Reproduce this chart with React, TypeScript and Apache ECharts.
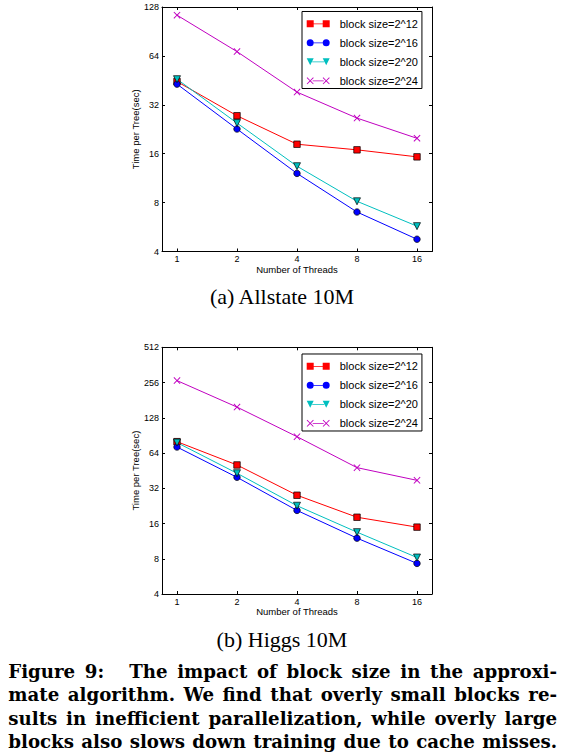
import React, { useEffect, useRef } from "react";
import * as echarts from "echarts";

const threads = [1, 2, 4, 8, 16];
const seriesNames = ["block size=2^12", "block size=2^16", "block size=2^20", "block size=2^24"];
const allstate12 = [44.5, 27.4, 18.3, 16.9, 15.3];
const allstate16 = [42.9, 22.7, 12.1, 7.0, 4.76];
const allstate20 = [46, 24.7, 13.4, 8.15, 5.73];
const allstate24 = [114, 68, 38.3, 26.5, 19.9];
const higgs12 = [80, 50.6, 27.9, 18.1, 14.9];
const higgs16 = [72, 39.7, 20.7, 12.0, 7.3];
const higgs20 = [78.6, 43, 22.7, 13.5, 8.2];
const higgs24 = [266, 158, 88.3, 48, 37.4];
const allstateYRange = [4, 128];
const higgsYRange = [4, 512];
const xLabel = "Number of Threads";
const yLabel = "Time per Tree(sec)";
const subCaptions = ["(a) Allstate 10M", "(b) Higgs 10M"];
const captionLines = [
  "Figure 9:  The impact of block size in the approxi-",
  "mate algorithm. We find that overly small blocks re-",
  "sults in inefficient parallelization, while overly large",
  "blocks also slows down training due to cache misses.",
];

const colors = ["#FF0000", "#0000FF", "#00BFBF", "#C000C0"];
const XPATH = "path://M0,1L1,0L5,4L9,0L10,1L6,5L10,9L9,10L5,6L1,10L0,9L4,5Z";
const symbols: any[] = ["rect", "circle", "triangle", XPATH];
const symbolRot = [0, 0, 180, 0];
const symbolSizes = [6.5, 6.5, 7, 7];
const legendIcons = [
  "path://M0,0H7V7H0Z M7,3.1H16V3.9H7Z M16,0H23V7H16Z",
  "path://M0,3.5A3.5,3.5,0,1,1,7,3.5A3.5,3.5,0,1,1,0,3.5Z M7,3.1H16V3.9H7Z M16,3.5A3.5,3.5,0,1,1,23,3.5A3.5,3.5,0,1,1,16,3.5Z",
  "path://M0,0H7L3.5,7Z M5.5,3.1H17.5V3.9H5.5Z M16,0H23L19.5,7Z",
  "path://M0,0.6L0.6,0L3.5,2.9L6.4,0L7,0.6L4.1,3.5L7,6.4L6.4,7L3.5,4.1L0.6,7L0,6.4L2.9,3.5Z M6,3.1H17V3.9H6Z M16,0.6L16.6,0L19.5,2.9L22.4,0L23,0.6L20.1,3.5L23,6.4L22.4,7L19.5,4.1L16.6,7L16,6.4L18.9,3.5Z",
];

const SANS = "'Liberation Sans', Arial, sans-serif";

function measure(text: string, font: string): number {
  const ctx = document.createElement("canvas").getContext("2d");
  if (!ctx) return text.length * 10;
  ctx.font = font;
  return ctx.measureText(text).width;
}

function buildCaption(): any[] {
  const left = 8.3;
  const right = 557;
  const width = right - left;
  const baselines = [678.3, 701.3, 724.5, 747.7];
  const family = "'DejaVu Serif', serif";
  let fs = 18.5;
  const parse = (line: string) => {
    const toks = line.split(" ");
    const words: string[] = [];
    const weights: number[] = [];
    let extra = 0;
    for (const t of toks) {
      if (t === "") {
        extra += 1.6;
        continue;
      }
      if (words.length > 0) weights.push(1 + extra);
      extra = 0;
      words.push(t);
    }
    return { words, weights };
  };
  const parsed = captionLines.map(parse);
  const natural = (p: any, size: number) => {
    const f = `bold ${size}px ${family}`;
    const sp = measure(" ", f);
    let w = 0;
    p.words.forEach((wd: string) => (w += measure(wd, f)));
    p.weights.forEach((g: number) => (w += g * sp));
    return w;
  };
  let maxW = 0;
  parsed.forEach((p) => (maxW = Math.max(maxW, natural(p, fs))));
  if (maxW > width * 0.985) fs = (fs * width * 0.985) / maxW;
  const font = `bold ${fs}px ${family}`;
  const out: any[] = [];
  parsed.forEach((p, li) => {
    const ws = p.words.map((wd: string) => measure(wd, font));
    const sumW = ws.reduce((a: number, b: number) => a + b, 0);
    const sumG = p.weights.reduce((a: number, b: number) => a + b, 0);
    const unit = (width - sumW) / sumG;
    let x = left;
    p.words.forEach((wd: string, i: number) => {
      out.push({
        type: "text",
        x,
        y: baselines[li] - 0.35 * fs,
        style: {
          text: wd,
          fontSize: fs,
          fontFamily: family,
          fontWeight: "bold",
          fill: "#000",
          align: "left",
          verticalAlign: "middle",
        },
      });
      x += ws[i] + (i < p.weights.length ? p.weights[i] * unit : 0);
    });
  });
  return out;
}

function xAxisPair(gridIndex: number): any[] {
  const common = {
    gridIndex,
    type: "log",
    logBase: 2,
    min: Math.pow(2, -0.25),
    max: Math.pow(2, 4.25),
    splitNumber: 4,
    splitLine: { show: false },
    axisLine: { show: true, onZero: false, lineStyle: { color: "#000", width: 1 } },
    axisTick: { show: true, inside: true, length: 3, lineStyle: { color: "#000" } },
  };
  const fmt = (v: number) => {
    const r = Math.round(v);
    return threads.includes(r) && Math.abs(v - r) < 1e-6 ? String(r) : "";
  };
  return [
    {
      ...common,
      position: "bottom",
      axisLabel: { show: true, formatter: fmt, fontSize: 9, fontFamily: SANS, color: "#000", margin: 3, showMinLabel: false, showMaxLabel: false },
      name: xLabel,
      nameLocation: "middle",
      nameGap: 11,
      nameTextStyle: { fontSize: 9.5, fontFamily: SANS, color: "#000" },
    },
    { ...common, position: "top", axisLabel: { show: false } },
  ];
}

function yAxisPair(gridIndex: number, range: number[]): any[] {
  const split = Math.round(Math.log2(range[1] / range[0]));
  const common = {
    gridIndex,
    type: "log",
    logBase: 2,
    min: range[0],
    max: range[1],
    splitNumber: split,
    splitLine: { show: false },
    axisLine: { show: true, onZero: false, lineStyle: { color: "#000", width: 1 } },
    axisTick: { show: true, inside: true, length: 3, lineStyle: { color: "#000" } },
  };
  return [
    {
      ...common,
      position: "left",
      axisLabel: { show: true, formatter: (v: number) => String(Math.round(v)), fontSize: 9, fontFamily: SANS, color: "#000", margin: 3 },
      name: yLabel,
      nameLocation: "middle",
      nameGap: 22,
      nameTextStyle: { fontSize: 9.5, fontFamily: SANS, color: "#000" },
    },
    { ...common, position: "right", axisLabel: { show: false } },
  ];
}

function makeSeries(values: number[][], axisIndex: number): any[] {
  return values.map((vals, k) => ({
    name: seriesNames[k],
    type: "line",
    xAxisIndex: axisIndex,
    yAxisIndex: axisIndex,
    data: threads.map((t, i) => [t, vals[i]]),
    symbol: symbols[k],
    symbolRotate: symbolRot[k],
    symbolSize: symbolSizes[k],
    showAllSymbol: true,
    lineStyle: { color: colors[k], width: 1 },
    itemStyle: {
      color: colors[k],
      borderColor: k === 3 ? colors[k] : "#000",
      borderWidth: k === 3 ? 0 : 0.7,
    },
    emphasis: { disabled: true },
  }));
}

function makeLegend(top: number): any {
  return {
    orient: "vertical",
    left: 302,
    top,
    padding: [5.3, 4, 0.7, 4.7],
    itemWidth: 23,
    itemHeight: 7,
    itemGap: 5,
    selectedMode: false,
    backgroundColor: "#fff",
    borderColor: "#000",
    borderWidth: 1,
    borderRadius: 0,
    itemStyle: { borderWidth: 0 },
    textStyle: { fontSize: 11, fontFamily: SANS, color: "#000", lineHeight: 14, padding: [0, 0, 0, 5] },
    data: seriesNames.map((n, k) => ({ name: n, icon: legendIcons[k] })),
  };
}

export default function App() {
  const ref = useRef<HTMLDivElement>(null);
  useEffect(() => {
    if (!ref.current) return;
    const chart = echarts.init(ref.current, undefined, { renderer: "svg" });
    const subCaptionGraphics = subCaptions.map((t, i) => ({
      type: "text",
      x: 282,
      y: i === 0 ? 296.5 : 639,
      style: {
        text: t,
        fontSize: 22,
        fontFamily: "'Liberation Serif', 'Times New Roman', serif",
        fill: "#000",
        align: "center",
        verticalAlign: "middle",
      },
    }));
    chart.setOption({
      animation: false,
      backgroundColor: "#fff",
      grid: [
        { left: 162, right: 133, top: 7, bottom: 501.5, containLabel: false },
        { left: 162, right: 133, top: 347.3, bottom: 159, containLabel: false },
      ],
      xAxis: [...xAxisPair(0), ...xAxisPair(1)],
      yAxis: [...yAxisPair(0, allstateYRange), ...yAxisPair(1, higgsYRange)],
      legend: [makeLegend(11.5), makeLegend(354)],
      series: [
        ...makeSeries([allstate12, allstate16, allstate20, allstate24], 0),
        ...makeSeries([higgs12, higgs16, higgs20, higgs24], 2),
      ],
      graphic: [...subCaptionGraphics, ...buildCaption()],
    });
    return () => chart.dispose();
  }, []);
  return (
    <div
      ref={ref}
      style={{ position: "absolute", left: 0, top: 0, width: 565, height: 753, background: "#fff" }}
    />
  );
}
